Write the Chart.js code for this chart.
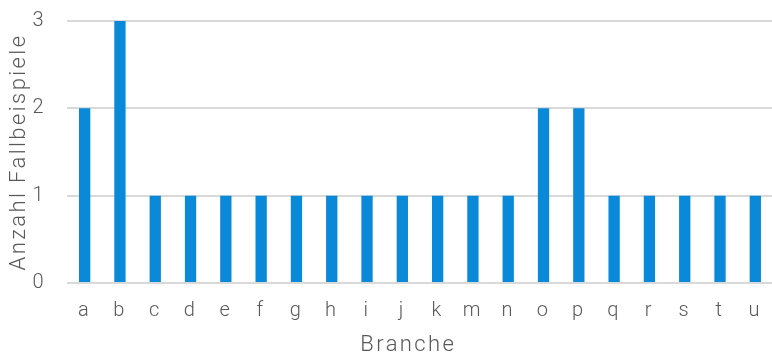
<!DOCTYPE html>
<html>
<head>
<meta charset="utf-8">
<script src="https://cdn.jsdelivr.net/npm/chart.js@4"></script>
<style>
  html, body { margin: 0; padding: 0; background: #fff; overflow: hidden; }
  #wrap { position: relative; width: 778px; height: 356px; }
</style>
</head>
<body>
<div id="wrap"><canvas id="chart"></canvas></div>
<script>
// Branchen (Kategorien) und Anzahl der Fallbeispiele je Branche
const branchen = ['a','b','c','d','e','f','g','h','i','j','k','m','n','o','p','q','r','s','t','u'];
const anzahl   = [2, 3, 1, 1, 1, 1, 1, 1, 1, 1, 1, 1, 1, 2, 2, 1, 1, 1, 1, 1];
const yTicks   = [0, 1, 2, 3];

const textColor = '#595959';
const fontFamily = 'Roboto, "DejaVu Sans Condensed", sans-serif';

// gesperrte Schrift für Achsentitel und Beschriftungen
const letterSpacingPlugin = {
  id: 'letterSpacing',
  beforeLayout(chart) { chart.ctx.letterSpacing = '2.4px'; },
  beforeDraw(chart) { chart.ctx.letterSpacing = '2.4px'; }
};

new Chart(document.getElementById('chart'), {
  type: 'bar',
  data: {
    labels: branchen,
    datasets: [{
      data: anzahl,
      backgroundColor: '#0a89d8',
      borderWidth: 0,
      barPercentage: 0.32,
      categoryPercentage: 1.0
    }]
  },
  plugins: [letterSpacingPlugin],
  options: {
    responsive: true,
    maintainAspectRatio: false,
    animation: false,
    layout: { padding: { top: 21, right: 0, bottom: 0, left: 0 } },
    plugins: { legend: { display: false }, tooltip: { enabled: false } },
    scales: {
      x: {
        afterFit: (axis) => { axis.height = 73; },
        grid: { display: false, drawTicks: false },
        border: { display: false },
        ticks: { color: textColor, font: { family: fontFamily, size: 20, weight: 300, lineHeight: 1.2 }, padding: 16, maxRotation: 0 },
        title: { display: true, text: 'Branche   ', color: textColor, font: { family: fontFamily, size: 22, weight: 300, lineHeight: 1.0 }, padding: { top: 11, bottom: 0 } }
      },
      y: {
        min: 0, max: 3,
        afterBuildTicks: (axis) => { axis.ticks = yTicks.map(v => ({ value: v })); },
        afterFit: (axis) => { axis.paddingTop = 0; axis.paddingBottom = 0; axis.width = 67; },
        grid: { color: '#d9d9d9', lineWidth: 2, drawTicks: false },
        border: { display: false },
        ticks: { color: textColor, font: { family: fontFamily, size: 20, weight: 300 }, padding: 21 },
        title: { display: true, text: 'Anzahl Fallbeispiele', color: textColor, font: { family: fontFamily, size: 22, weight: 300, lineHeight: 1.2 }, padding: { top: 6, bottom: 1 } }
      }
    }
  }
});
</script>
</body>
</html>
